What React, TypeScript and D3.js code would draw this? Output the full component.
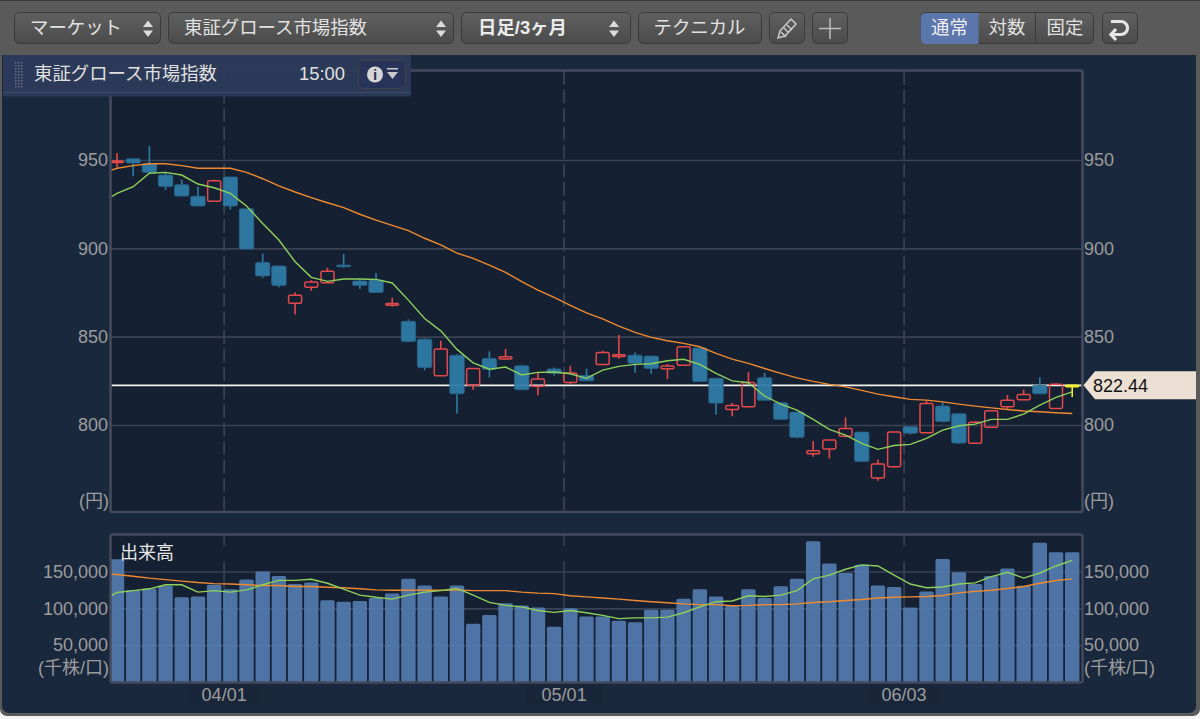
import React, { useEffect, useRef } from 'react';
import * as d3 from 'd3';

const dates = [
  '03/21', '03/22', '03/25', '03/26', '03/27', '03/28', '03/29',
  '04/01', '04/02', '04/03', '04/04', '04/05', '04/08', '04/09', '04/10', '04/11', '04/12',
  '04/15', '04/16', '04/17', '04/18', '04/19', '04/22', '04/23', '04/24', '04/25', '04/26', '04/30',
  '05/01', '05/02', '05/07', '05/08', '05/09', '05/10', '05/13', '05/14', '05/15', '05/16', '05/17',
  '05/20', '05/21', '05/22', '05/23', '05/24', '05/27', '05/28', '05/29', '05/30', '05/31',
  '06/03', '06/04', '06/05', '06/06', '06/07', '06/10', '06/11', '06/12', '06/13', '06/14', '06/17',
];
const dateTicks = ['04/01', '05/01', '06/03'];
const priceTicks = [800, 850, 900, 950];
const volumeTicks = [50000, 100000, 150000];
const lastPrice = 822.44;

const opens = [
  948.6, 950.7, 948, 941.5, 936, 929.5, 926.6, 940.4, 922.4, 892,
  890, 868.9, 878, 880.5, 890.5, 881.5, 882, 867.8, 858.7, 848.6,
  827.9, 839.5, 822.5, 837.7, 837.4, 833.5, 822, 831.7, 824, 828,
  834.3, 838.8, 839.5, 839, 831.8, 833.8, 843.6, 826.4, 808.8, 810.3,
  826.8, 812.6, 807.3, 783.7, 786.4, 793.7, 796, 770, 776.3, 799,
  795.6, 810.7, 806.4, 789.6, 798.7, 810.3, 814.3, 822.4, 809.4, 822.3,
];
const closes = [
  949.4, 948.3, 943, 935, 929.6, 924, 938.3, 924, 899.6, 884.4,
  879, 873.4, 881, 887, 889.6, 879, 875, 868.8, 847.3, 832.6,
  843, 817.7, 832, 831.5, 838.7, 820, 826, 829.3, 829.5, 825,
  841, 839.8, 835, 832, 833.4, 844.3, 824.6, 812.4, 811, 824,
  814, 803.2, 793, 785.4, 791.5, 798, 779.4, 777.9, 796, 795.4,
  812.2, 802, 789.8, 801.5, 808, 814, 817.3, 817.7, 823, 822.44,
];
const highs = [
  954, 951, 958, 942.8, 939, 935, 939, 940.4, 922.4, 897,
  890, 875, 882, 889, 896.8, 882.5, 886, 872, 859.8, 849,
  847.7, 840, 832, 841.7, 843, 834, 829.5, 832.5, 833.5, 832,
  842, 851, 841, 839, 834.6, 844.6, 843.6, 826.4, 812.6, 830,
  829.5, 812.6, 807.3, 791, 791.5, 804.3, 796, 780.5, 796, 799,
  814, 813, 806.4, 802, 808, 817, 820, 827, 823.6, 822.6,
];
const lows = [
  946, 941, 943, 933, 929.6, 924, 926.5, 922, 899.6, 883.4,
  878, 862.6, 876, 880.5, 889, 877, 875, 867, 847, 831,
  827.9, 806.5, 820, 827, 837, 820, 816.8, 828, 823, 825,
  834.3, 837.5, 829.6, 829, 826, 833.8, 824.6, 806, 805, 810.3,
  814, 803.2, 792.5, 782, 781, 793, 779, 768.4, 776, 794.6,
  795.6, 801.5, 789.5, 789.6, 798.7, 809, 814, 817.7, 809.4, 815.8,
];
// first value of each line belongs to the day just left of the chart (gets clipped)
const priceShort = [
  925.6, 931.1, 934.9, 942.5, 943, 941.5, 936.4, 934.3, 931.1, 924, 914.1,
  904.7, 892.4, 883.6, 881.3, 882.6, 882.6, 882.4, 880.4, 870.7, 860.3,
  853.3, 842.8, 835.2, 831.6, 832.8, 828.3, 829.8, 830, 829, 826.4,
  831.1, 833.2, 834.3, 834.7, 836.4, 837.2, 834.3, 829.2, 825, 823.9,
  816.4, 811.8, 808.4, 803.2, 797.5, 794.3, 789.6, 786.2, 788.4, 789,
  792.4, 797.1, 799.6, 800.5, 803.2, 803.2, 806.2, 811.3, 815.6, 818.8,
];
const priceLong = [
  942.2, 945.3, 946.8, 947.9, 947.9, 946.8, 945.3, 945.3, 945.3, 943, 939.4,
  935.4, 931.9, 928.7, 925.8, 923, 919.3, 916, 913, 910, 905.7,
  901.9, 897.3, 894.3, 890.5, 886.4, 881.1, 876.4, 872.3, 867.7, 863.5,
  860.1, 856, 852.4, 849.6, 847.7, 846.2, 844.3, 840.5, 837.3, 834.9,
  832, 829.2, 826.7, 824.7, 823, 821.6, 819.6, 817.5, 816, 814.5,
  814.1, 813.1, 811.8, 810.7, 809.7, 808.8, 807.9, 807.5, 806.9, 806.5,
];
const volumes = [
  166500, 125000, 127000, 130500, 115000, 116000, 132000, 126000, 139000, 150000,
  144000, 133000, 135000, 111000, 109000, 110000, 114000, 120000, 140000, 131000,
  116000, 131000, 79000, 91000, 107000, 104000, 101000, 75000, 100000, 89000,
  89000, 83000, 81000, 98000, 98000, 113000, 126000, 116000, 103000, 126000,
  114000, 130000, 140000, 191000, 161000, 148000, 159000, 131000, 129000, 101000,
  123000, 167000, 149000, 133000, 144000, 154000, 130500, 189000, 176000, 176000,
];
const volumeShort = [
  109000, 121500, 124000, 126500, 132000, 132000, 122000, 124000, 122000, 125000, 132000,
  138000, 138000, 139500, 134000, 126000, 118000, 115000, 112500, 118000, 122000,
  124000, 127000, 118000, 108000, 104000, 102000, 97000, 94500, 97000, 94000,
  90500, 86000, 87000, 87000, 88000, 94000, 102000, 109000, 110000, 117000,
  116000, 118000, 124000, 140000, 145000, 153000, 159000, 157500, 145000, 133000,
  128000, 129000, 133000, 134500, 143000, 149000, 141000, 148000, 157500, 165000,
];
const volumeLong = [
  146500, 146000, 143500, 141000, 139000, 137000, 135000, 133500, 133000, 132000, 131000,
  131000, 129600, 129600, 128700, 128000, 126500, 125000, 124600, 124600, 124600,
  124600, 125000, 124000, 124000, 124000, 122000, 120600, 120000, 117000, 115600,
  114000, 112500, 110700, 109000, 107500, 106000, 105000, 105000, 103500, 104000,
  105000, 105000, 106000, 108000, 109000, 110700, 112000, 114000, 115000, 115600,
  116000, 117500, 121000, 123000, 124600, 127000, 129600, 134000, 137700, 140000,
];

const FONT = "'Liberation Sans', 'Noto Sans CJK JP', sans-serif";
const LABEL = '#9c9c9c';
const FRAME = '#434a5c';
const GRID = '#3a4254';
const UP = '#e5484b';
const DOWN = '#2f7ba6';
const DOWN_EDGE = '#28668e';

const App: React.FC = () => {
  const svgRef = useRef<SVGSVGElement>(null);

  useEffect(() => {
    const svg = d3.select(svgRef.current!);
    drawWindow(svg);
    drawChart(svg);
    drawTitle(svg);
    return () => {
      svg.selectAll('*').remove();
    };
  }, []);

  const drawChart = (svg: any) => {
    const plot = { left: 111, right: 1082, top: 71, bottom: 512 };
    const lower = { top: 535, bottom: 682 };

    const x = d3
      .scaleBand<string>()
      .domain(dates)
      .range([108.9, 1080.3])
      .paddingInner(0.11)
      .paddingOuter(0.055);
    const center = (d: string) => x(d)! + x.bandwidth() / 2;
    const y = d3.scaleLinear().domain([800, 950]).range([425, 160]);
    const yVol = d3.scaleLinear().domain([0, 150000]).range([682, 571.5]);

    // panel backgrounds
    svg.append('rect').attr('x', plot.left).attr('y', plot.top)
      .attr('width', plot.right - plot.left).attr('height', plot.bottom - plot.top).attr('fill', '#152132');
    svg.append('rect').attr('x', plot.left).attr('y', lower.top)
      .attr('width', plot.right - plot.left).attr('height', lower.bottom - lower.top).attr('fill', '#152132');

    const defs = svg.append('defs');
    defs.append('clipPath').attr('id', 'clip-price').append('rect')
      .attr('x', plot.left).attr('y', plot.top).attr('width', plot.right - plot.left).attr('height', plot.bottom - plot.top);
    defs.append('clipPath').attr('id', 'clip-volume').append('rect')
      .attr('x', plot.left).attr('y', lower.top).attr('width', plot.right - plot.left).attr('height', lower.bottom - lower.top);

    const styleAxis = (g: any) => {
      g.select('.domain').remove();
      g.selectAll('text').attr('fill', LABEL).style('font', `18px ${FONT}`);
    };

    // left axes carry the grid lines
    svg.append('g').attr('transform', `translate(${plot.left},0)`)
      .call(d3.axisLeft(y).tickValues(priceTicks).tickSize(-(plot.right - plot.left)).tickPadding(3))
      .call(styleAxis)
      .call((g: any) => g.selectAll('line').attr('stroke', GRID).attr('stroke-width', 1.6));
    svg.append('g').attr('transform', `translate(${plot.right - 1},0)`)
      .call(d3.axisRight(y).tickValues(priceTicks).tickSize(0).tickPadding(3))
      .call(styleAxis);
    svg.append('g').attr('transform', `translate(${plot.left},0)`)
      .call(d3.axisLeft(yVol).tickValues(volumeTicks).tickFormat(d3.format(',') as any)
        .tickSize(-(plot.right - plot.left)).tickPadding(3))
      .call(styleAxis)
      .call((g: any) => g.selectAll('line').attr('stroke', GRID).attr('stroke-width', 1.6));
    svg.append('g').attr('transform', `translate(${plot.right},0)`)
      .call(d3.axisRight(yVol).tickValues(volumeTicks).tickFormat(d3.format(',') as any).tickSize(0).tickPadding(2))
      .call(styleAxis);

    // month separators
    const sepX = (d: string) => x(d)! + 1;
    svg.append('g').selectAll('line').data(dateTicks).enter().append('line')
      .attr('x1', sepX).attr('x2', sepX).attr('y1', plot.top).attr('y2', plot.bottom)
      .attr('stroke', GRID).attr('stroke-width', 1.7).attr('stroke-dasharray', '14 4.5');
    svg.append('g').selectAll('line').data(dateTicks).enter().append('line')
      .attr('x1', sepX).attr('x2', sepX).attr('y1', lower.top).attr('y2', lower.bottom)
      .attr('stroke', GRID).attr('stroke-width', 1.5).attr('stroke-dasharray', '11 15 60 100');

    // last price line
    svg.append('line').attr('x1', plot.left).attr('x2', plot.right)
      .attr('y1', y(lastPrice)).attr('y2', y(lastPrice))
      .attr('stroke', '#f2f2ee').attr('stroke-width', 1.6);

    const price = svg.append('g').attr('clip-path', 'url(#clip-price)');
    const candles = price.selectAll('.candle').data(dates).enter().append('g').attr('class', 'candle');
    const isUp = (i: number) => closes[i] >= opens[i];
    const last = dates.length - 1;
    const candleColor = (i: number) => (i === last ? '#f2f02a' : isUp(i) ? UP : DOWN);
    const bodyTop = (i: number) => y(Math.max(opens[i], closes[i]));
    const bodyBottom = (i: number) => y(Math.min(opens[i], closes[i]));

    // wicks stop at the body, red bodies are hollow
    candles.append('line')
      .attr('x1', (d: string) => center(d)).attr('x2', (d: string) => center(d))
      .attr('y1', (_: string, i: number) => y(highs[i])).attr('y2', (_: string, i: number) => bodyTop(i))
      .attr('stroke', (_: string, i: number) => candleColor(i)).attr('stroke-width', 1.6);
    candles.append('line')
      .attr('x1', (d: string) => center(d)).attr('x2', (d: string) => center(d))
      .attr('y1', (_: string, i: number) => bodyBottom(i)).attr('y2', (_: string, i: number) => y(lows[i]))
      .attr('stroke', (_: string, i: number) => candleColor(i)).attr('stroke-width', 1.6);
    candles.append('rect')
      .attr('x', (d: string, i: number) => (isUp(i) ? x(d)! + 0.7 : x(d)!))
      .attr('width', (_: string, i: number) => (isUp(i) ? x.bandwidth() - 1.4 : x.bandwidth()))
      .attr('y', (_: string, i: number) => bodyTop(i))
      .attr('height', (_: string, i: number) => Math.max(1.5, bodyBottom(i) - bodyTop(i)))
      .attr('rx', 1.5)
      .attr('fill', (_: string, i: number) => (isUp(i) ? 'none' : DOWN))
      .attr('fill-opacity', 0.94)
      .attr('stroke', (_: string, i: number) => (i === last ? candleColor(i) : isUp(i) ? UP : DOWN_EDGE))
      .attr('stroke-width', (_: string, i: number) => (isUp(i) ? 1.5 : 0.8));

    const first = center(dates[0]);
    const lineOf = (scale: d3.ScaleLinear<number, number>) =>
      d3.line<number>().x((_, i) => first + (i - 1) * x.step()).y((d) => scale(d));

    price.append('path').attr('d', lineOf(y)(priceLong)).attr('fill', 'none')
      .attr('stroke', '#ef8a30').attr('stroke-width', 1.4);
    price.append('path').attr('d', lineOf(y)(priceShort)).attr('fill', 'none')
      .attr('stroke', '#8ed05c').attr('stroke-width', 1.4);

    // volume
    const volume = svg.append('g').attr('clip-path', 'url(#clip-volume)');
    volume.selectAll('rect').data(dates).enter().append('rect')
      .attr('x', (d: string) => x(d)!)
      .attr('width', x.bandwidth())
      .attr('y', (_: string, i: number) => yVol(volumes[i]))
      .attr('height', (_: string, i: number) => yVol(0) - yVol(volumes[i]))
      .attr('rx', 1.5)
      .attr('fill', '#5079ab')
      .attr('fill-opacity', 0.95);
    volume.append('path').attr('d', lineOf(yVol)(volumeLong)).attr('fill', 'none')
      .attr('stroke', '#ef8a30').attr('stroke-width', 1.4);
    volume.append('path').attr('d', lineOf(yVol)(volumeShort)).attr('fill', 'none')
      .attr('stroke', '#8ed05c').attr('stroke-width', 1.4);

    // frames
    svg.append('rect').attr('x', 110.5).attr('y', 70.5).attr('width', 972).attr('height', 441.5)
      .attr('rx', 2).attr('fill', 'none').attr('stroke', FRAME).attr('stroke-width', 2.6);
    svg.append('rect').attr('x', 110.5).attr('y', 534.5).attr('width', 972).attr('height', 148)
      .attr('rx', 2).attr('fill', 'none').attr('stroke', FRAME).attr('stroke-width', 2.4);

    // date axis
    const dateLabels = svg.append('g').selectAll('g').data(dateTicks).enter().append('g')
      .attr('transform', (d: string) => `translate(${sepX(d)},0)`);
    dateLabels.append('rect').attr('x', -38).attr('y', 685).attr('width', 76).attr('height', 19).attr('fill', '#19263a');
    dateLabels.append('text').attr('y', 701).attr('text-anchor', 'middle').attr('fill', LABEL)
      .style('font', `18px ${FONT}`).text((d: string) => d);

    const note = (tx: number, ty: number, anchor: string, label: string, fill = LABEL) =>
      svg.append('text').attr('x', tx).attr('y', ty).attr('text-anchor', anchor).attr('fill', fill)
        .style('font', `18px ${FONT}`).text(label);
    note(109, 507, 'end', '(円)');
    note(1084, 507, 'start', '(円)');
    note(109, 674, 'end', '(千株/口)');
    note(1084, 674, 'start', '(千株/口)');
    note(120, 559, 'start', '出来高', '#e8e8e8');

    // price tag
    const tagY = y(lastPrice);
    svg.append('path')
      .attr('d', `M1083.5,${tagY}L1095,${tagY - 14}H1196V${tagY + 14}H1095Z`)
      .attr('fill', '#ebe0d3');
    svg.append('text').attr('x', 1093).attr('y', tagY + 6.5).attr('fill', '#111')
      .style('font', `18px ${FONT}`).text(d3.format('.2f')(lastPrice));
  };

  const drawWindow = (svg: any) => {
    svg.append('rect').attr('width', 1200).attr('height', 719).attr('fill', '#f4f4f4');
    svg.append('path')
      .attr('d', 'M0,0H1200V709a7,7 0 0 1 -7,7H7a7,7 0 0 1 -7,-7Z')
      .attr('fill', '#5a5a5a');
    svg.append('rect').attr('width', 1200).attr('height', 1).attr('fill', '#3c3c3c');
    svg.append('path')
      .attr('d', 'M2,55H1196V706a7,7 0 0 1 -7,7H9a7,7 0 0 1 -7,-7Z')
      .attr('fill', '#1a283d');

    const defs = svg.append('defs');
    const grad = defs.append('linearGradient').attr('id', 'btn').attr('x1', 0).attr('x2', 0).attr('y1', 0).attr('y2', 1);
    grad.append('stop').attr('offset', 0).attr('stop-color', '#606060');
    grad.append('stop').attr('offset', 1).attr('stop-color', '#4b4b4b');

    const button = (bx: number, w: number) =>
      svg.append('rect').attr('x', bx + 0.5).attr('y', 12.5).attr('width', w).attr('height', 31).attr('rx', 5)
        .attr('fill', 'url(#btn)').attr('stroke', '#3a3a3a');
    const label = (tx: number, text: string, fill = '#e2e2e2', anchor = 'start', weight = 'normal') =>
      svg.append('text').attr('x', tx).attr('y', 34).attr('text-anchor', anchor).attr('fill', fill)
        .style('font', `${weight} 18.4px ${FONT}`).text(text);
    const updown = (cx: number) =>
      svg.append('path')
        .attr('d', `M${cx - 5},27h10l-5,-6.5zM${cx - 5},30.5h10l-5,6.5z`)
        .attr('fill', '#dcdcdc');

    button(14, 146); label(30, 'マーケット'); updown(148);
    button(168, 285); label(184, '東証グロース市場指数'); updown(441);
    button(461, 169); label(478, '日足/3ヶ月', '#ececec', 'start', 'bold'); updown(614);
    button(638, 123); label(699.5, 'テクニカル', '#e2e2e2', 'middle');
    button(769, 35);
    svg.append('path')
      .attr('d', 'M778,38l2,-7l11,-12l5,5l-11,12zM781,32l5,5M784,28l5,5M787,25l5,5')
      .attr('fill', 'none').attr('stroke', '#c8c8c8').attr('stroke-width', 1.5);
    button(812, 35);
    svg.append('path').attr('d', 'M830,18v21M819,28.5h22').attr('stroke', '#bdbdbd').attr('stroke-width', 1.5);

    // 通常 / 対数 / 固定
    svg.append('rect').attr('x', 920.5).attr('y', 12.5).attr('width', 173).attr('height', 31).attr('rx', 5)
      .attr('fill', 'url(#btn)').attr('stroke', '#3a3a3a');
    svg.append('path').attr('d', 'M978.5,13V44H925.5a5,5 0 0 1 -5,-5V18a5,5 0 0 1 5,-5Z').attr('fill', '#5a76ab');
    svg.append('path').attr('d', 'M1035.5,13V44').attr('stroke', '#3a3a3a');
    label(949.5, '通常', '#f0f0f0', 'middle');
    label(1007, '対数', '#e2e2e2', 'middle');
    label(1065, '固定', '#e2e2e2', 'middle');
    button(1102, 35);
    svg.append('path')
      .attr('d', 'M1111,21.5h10a6.5,6.5 0 0 1 0,13h-9M1116,29l-5,5.5l5,5.5')
      .attr('fill', 'none').attr('stroke', '#e6e6e6').attr('stroke-width', 3.2);
  };

  // title strip sits over the price frame
  const drawTitle = (svg: any) => {
    const g = svg.append('g');
    g.append('rect').attr('x', 3).attr('y', 55).attr('width', 408).attr('height', 41.5).attr('fill', '#2d3a5a').attr('fill-opacity', 0.96);
    g.append('line').attr('x1', 3).attr('x2', 411).attr('y1', 92.5).attr('y2', 92.5).attr('stroke', '#414b66').attr('stroke-width', 1.2);
    d3.range(62, 88, 3).forEach((gy) => {
      d3.range(15, 24, 3).forEach((gx) => {
        g.append('rect').attr('x', gx).attr('y', gy).attr('width', 1.5).attr('height', 1.5).attr('fill', '#6a7186');
      });
    });
    g.append('text').attr('x', 34).attr('y', 80).attr('fill', '#e0e0e0').style('font', `18.4px ${FONT}`).text('東証グロース市場指数');
    g.append('text').attr('x', 299).attr('y', 80).attr('fill', '#e0e0e0').style('font', `18.4px ${FONT}`).text('15:00');
    g.append('rect').attr('x', 358.5).attr('y', 60.5).attr('width', 47).attr('height', 28).attr('rx', 5)
      .attr('fill', '#28335a').attr('stroke', '#434343');
    g.append('circle').attr('cx', 375).attr('cy', 74.5).attr('r', 8).attr('fill', '#d6d6d6');
    g.append('text').attr('x', 375).attr('y', 80).attr('text-anchor', 'middle').attr('fill', '#28335a')
      .style('font', `bold 15px ${FONT}`).text('i');
    g.append('path').attr('d', 'M387,68h11v1.5h-11zM387,72h11l-5.5,7z').attr('fill', '#c9c9c9');
  };

  return (
    <svg
      ref={svgRef}
      width={1200}
      height={719}
      style={{ position: 'absolute', left: 0, top: 0 }}
    />
  );
};

export default App;
